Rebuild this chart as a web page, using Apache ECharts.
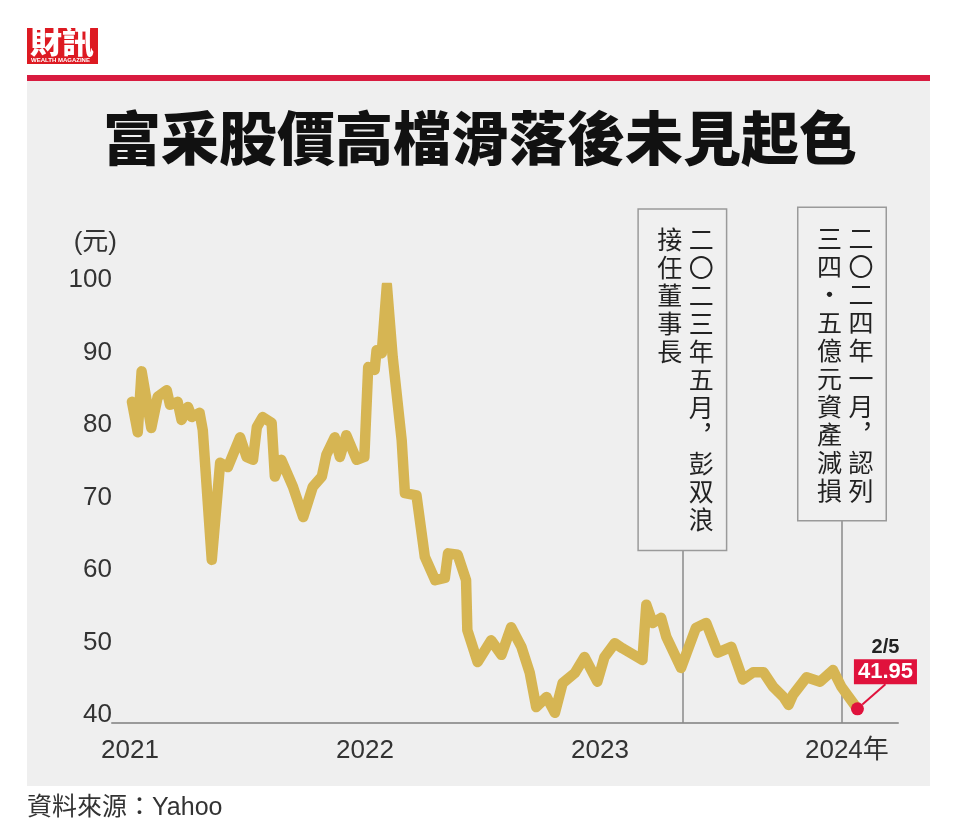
<!DOCTYPE html>
<html><head><meta charset="utf-8">
<script src="https://cdn.jsdelivr.net/npm/echarts@6/dist/echarts.min.js"></script>
<style>html,body{margin:0;padding:0;background:#fff}#c{width:960px;height:835px}</style>
</head><body><div id="c"></div>
<script>
const dates = [
'2021-01-04','2021-01-13','2021-01-19','2021-02-03','2021-02-13','2021-02-27','2021-03-04','2021-03-16','2021-03-22','2021-04-01',
'2021-04-07','2021-04-19','2021-04-24','2021-05-08','2021-05-21','2021-06-02','2021-06-21','2021-07-01','2021-07-11','2021-07-17',
'2021-07-26','2021-08-09','2021-08-14','2021-08-24','2021-09-11','2021-09-27','2021-10-12','2021-10-26','2021-11-02','2021-11-15',
'2021-11-23','2021-12-03','2021-12-19','2021-12-31','2022-01-06','2022-01-16','2022-01-19','2022-01-27','2022-02-04','2022-02-13',
'2022-02-27','2022-03-04','2022-03-22','2022-04-04','2022-04-20','2022-05-05','2022-05-10','2022-05-25','2022-06-07','2022-06-09',
'2022-06-25','2022-07-16','2022-08-01','2022-08-16','2022-09-01','2022-09-14','2022-09-24','2022-10-10','2022-10-23','2022-11-04',
'2022-11-23','2022-12-08','2022-12-28','2023-01-08','2023-01-24','2023-02-05','2023-03-08','2023-03-14','2023-03-24','2023-04-06',
'2023-04-14','2023-05-07','2023-05-30','2023-06-15','2023-07-03','2023-07-24','2023-08-11','2023-08-27','2023-09-12','2023-09-27',
'2023-10-13','2023-10-21','2023-10-28','2023-11-18','2023-12-09','2023-12-29','2024-01-11','2024-02-05'
];
const prices = [
84.3,80.1,88.5,80.7,85.0,85.9,83.9,84.3,81.8,83.6,
82.2,82.8,80.4,62.5,75.9,75.3,79.4,76.7,76.3,80.8,
82.2,81.4,74.0,76.3,72.6,68.4,72.6,74.0,77.0,79.4,
76.7,79.7,76.3,76.7,89.1,88.7,91.4,91.0,100.4,90.5,
79.0,71.7,71.4,62.9,59.7,60.0,63.4,63.2,59.7,52.8,
48.4,51.4,49.4,53.2,50.5,46.9,42.2,43.6,41.4,45.5,
46.9,49.1,45.7,49.1,51.0,50.3,48.7,56.3,53.8,54.5,
51.9,47.6,53.1,53.8,49.7,50.5,46.0,47.0,47.0,45.0,
43.6,42.5,43.9,46.3,45.7,47.3,45.0,41.95
];
const yMin = 40, yMax = 100, yStep = 10;
const xTickYears = [2021, 2022, 2023, 2024];
const xRange = ['2020-12-04', '2024-04-08'];
const lastDateLabel = '2/5';
const annotDates = ['2023-05-09', '2024-01-12'];
const annotTops = [63.9, 68.0];
const annotCols = [
  ['二〇二三年五月︐彭双浪', '接任董事長'],
  ['二〇二四年一月︐認列', '三四・五億元資產減損']
];

const CJK = '"Noto Sans CJK TC","Noto Sans CJK SC",sans-serif';
const LAT = '"Liberation Sans","Noto Sans CJK TC",sans-serif';
const GOLD = '#d6b553';
const RED = '#e0123c';

function ts(s) { const p = s.split('-').map(Number); return new Date(p[0], p[1] - 1, p[2]).getTime(); }
function verticalText(cols) {
  const right = Array.from(cols[0]), left = Array.from(cols[1]);
  const n = Math.max(right.length, left.length);
  const lines = [];
  for (let i = 0; i < n; i++) {
    lines.push('{l|' + (left[i] || '　') + '}{r|' + (right[i] || '　') + '}');
  }
  return lines.join('\n');
}
const annStyle = { fontFamily: CJK, fontSize: 25, lineHeight: 28, color: '#222' };

const chart = echarts.init(document.getElementById('c'));
const lineData = dates.map((d, i) => [ts(d), prices[i]]);
const last = lineData[lineData.length - 1];

chart.setOption({
  backgroundColor: '#ffffff',
  animation: false,
  title: {
    text: '富采股價高檔滑落後未見起色',
    left: 'center', top: 104,
    textStyle: { fontFamily: CJK, fontSize: 58, fontWeight: 900, color: '#111' }
  },
  graphic: [
    { type: 'rect', z: -10, shape: { x: 27, y: 80, width: 903, height: 706 }, style: { fill: '#efefef' } },
    { type: 'rect', z: -9, shape: { x: 27, y: 75, width: 903, height: 6 }, style: { fill: '#d81b3f' } },
    { type: 'rect', z: -9, shape: { x: 27, y: 28, width: 71, height: 36 }, style: { fill: '#dd1a22' } },
    { type: 'text', z: -8, left: 30, top: 25, style: { text: '財訊', fill: '#fff', font: '900 32px ' + CJK } },
    { type: 'text', z: -8, left: 31, top: 57, style: { text: 'WEALTH MAGAZINE', fill: '#fff', font: 'bold 6px "Liberation Sans"' } },
    { type: 'text', left: 27, top: 796, style: { text: '資料來源：Yahoo', fill: '#333', font: '25px ' + LAT } }
  ],
  grid: { left: 112, right: 62, top: 288, bottom: 112 },
  xAxis: {
    type: 'value',
    min: ts(xRange[0]), max: ts(xRange[1]),
    axisLine: { show: true, lineStyle: { color: '#9a9a9a', width: 2 } },
    axisTick: { show: false },
    splitLine: { show: false },
    axisLabel: {
      customValues: xTickYears.map(y => new Date(y, 0, 1).getTime()),
      margin: 15,
      fontFamily: LAT, fontSize: 26, color: '#333',
      formatter: function (v) {
        const y = new Date(v).getFullYear();
        return y === 2024 ? '{p| }{t|2024年}' : String(y);
      },
      rich: {
        p: { width: 24, fontFamily: LAT, fontSize: 26 },
        t: { fontFamily: LAT, fontSize: 26, color: '#333' }
      }
    }
  },
  yAxis: {
    type: 'value', min: yMin, max: yMax, interval: yStep,
    name: '(元)', nameLocation: 'end', nameGap: 32,
    nameTextStyle: { fontFamily: LAT, fontSize: 26, color: '#333', align: 'right', padding: [0, -5, 0, 0] },
    axisLine: { show: false }, axisTick: { show: false }, splitLine: { show: false },
    axisLabel: { margin: 0, fontFamily: LAT, fontSize: 26, lineHeight: 16, color: '#333', verticalAlign: 'bottom' }
  },
  series: [
    {
      type: 'line', data: lineData, showSymbol: false, z: 3,
      lineStyle: { color: GOLD, width: 10.5, cap: 'round', join: 'round' },
      markLine: {
        silent: true, symbol: 'none', z: 2,
        lineStyle: { color: '#8a8a8a', width: 1.5, type: 'solid' },
        data: annotDates.map((d, i) => [
          { coord: [ts(d), yMin] },
          {
            coord: [ts(d), annotTops[i]],
            label: {
              show: true, position: 'end', distance: 0,
              formatter: verticalText(annotCols[i]),
              backgroundColor: '#f0f0f0', borderColor: '#9a9a9a', borderWidth: 1.5,
              padding: [16, 12, 16, 12],
              fontFamily: CJK, fontSize: 25, lineHeight: 28, color: '#222',
              rich: { l: Object.assign({ width: 38 }, annStyle), r: Object.assign({}, annStyle) }
            }
          }
        ])
      }
    },
    {
      type: 'scatter', z: 5, data: [last], symbolSize: 13,
      itemStyle: { color: RED, opacity: 1 },
      label: {
        show: true, position: 'top', distance: 4,
        formatter: '{d|' + lastDateLabel + '}\n{v|' + last[1].toFixed(2) + '}',
        rich: {
          d: { fontFamily: LAT, fontSize: 20, fontWeight: 'bold', color: '#222', lineHeight: 24, align: 'center' },
          v: { fontFamily: LAT, fontSize: 22, fontWeight: 'bold', color: '#fff', backgroundColor: RED, padding: [2, 4, 1, 4], lineHeight: 25, align: 'center' }
        }
      },
      labelLayout: { dx: 28, dy: -14 },
      labelLine: { show: true, lineStyle: { color: RED, width: 2, opacity: 1 } }
    }
  ]
});
</script></body></html>
